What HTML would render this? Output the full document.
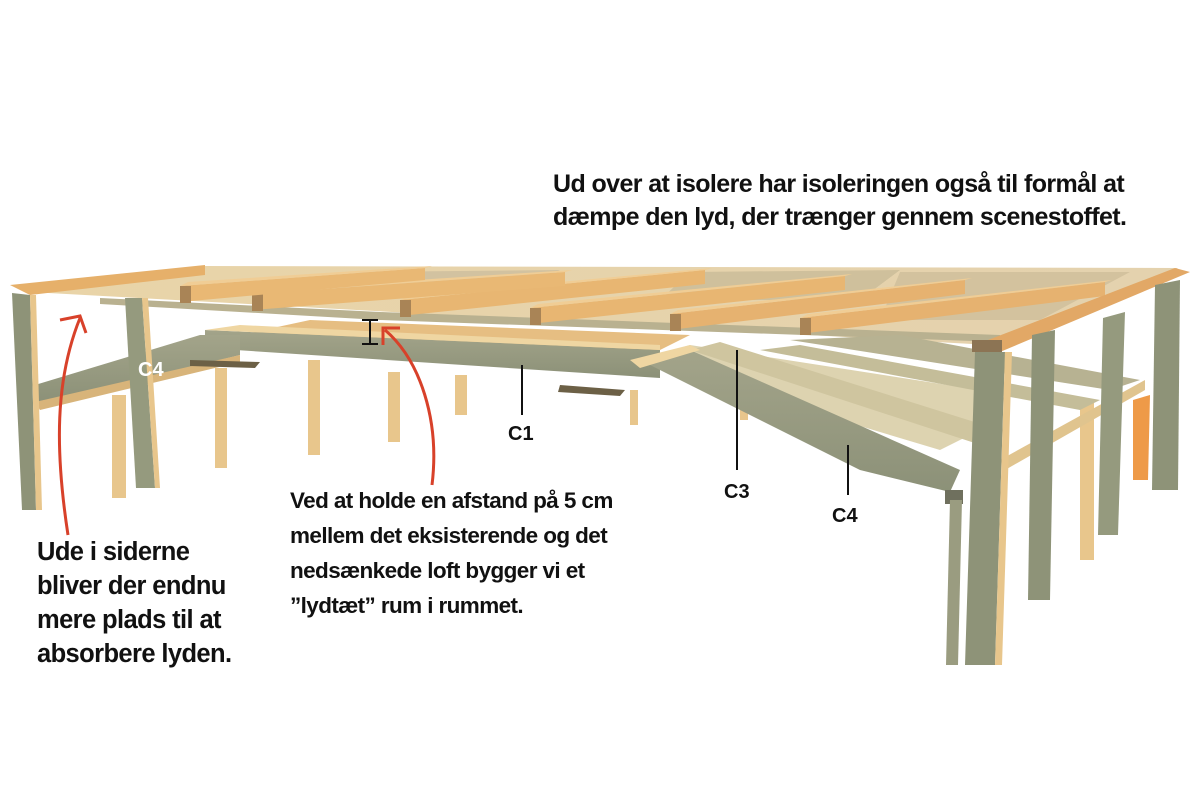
<!DOCTYPE html>
<html><head><meta charset="utf-8"><style>
body{margin:0;background:#fff;width:1200px;height:800px;overflow:hidden;position:relative;font-family:"Liberation Sans",sans-serif}
.t{position:absolute;font-weight:bold;color:#111;letter-spacing:-0.6px}
</style></head><body>
<svg width="1200" height="800" style="position:absolute;left:0;top:0">
<defs>
<linearGradient id="deck" x1="0" y1="0" x2="1" y2="0"><stop offset="0" stop-color="#e9d4a8"/><stop offset="1" stop-color="#e4d2ae"/></linearGradient>
<linearGradient id="beam" x1="0" y1="0" x2="0" y2="1"><stop offset="0" stop-color="#a3a48a"/><stop offset="1" stop-color="#8c9178"/></linearGradient>
</defs>
<g fill="#e8c68c">
<rect x="112" y="395" width="14" height="103"/>
<rect x="215" y="368" width="12" height="100"/>
<rect x="308" y="360" width="12" height="95"/>
<rect x="388" y="372" width="12" height="70"/>
<rect x="455" y="375" width="12" height="40"/>
<rect x="630" y="390" width="8" height="35"/>
<rect x="740" y="370" width="8" height="50"/>
<rect x="1080" y="400" width="14" height="160"/>
</g>
<!-- deck -->
<polygon points="205,266 1178,268 990,345 30,292" fill="url(#deck)"/>
<polygon points="360,272 560,270 520,290 330,292" fill="#d2c2a0"/>
<polygon points="690,272 900,270 860,300 660,300" fill="#cfc09c"/>
<polygon points="900,272 1130,272 1040,320 880,320" fill="#d3c29e"/>
<!-- secondary beam -->
<polygon points="100,298 380,312 1000,335 1000,342 380,320 100,304" fill="#b9b190"/>
<!-- joists: back to front -->
<g>
<polygon points="800,318 1105,282 1105,296 800,334" fill="#e6b270"/><polygon points="800,318 1105,282 1112,280 808,314" fill="#f0cd95"/><rect x="800" y="318" width="11" height="17" fill="#a98456"/>
<polygon points="670,314 965,280 965,294 670,330" fill="#e6b270"/><polygon points="670,314 965,280 972,278 678,310" fill="#f0cd95"/><rect x="670" y="314" width="11" height="17" fill="#a98456"/>
<polygon points="530,308 845,276 845,290 530,324" fill="#e8b672"/><polygon points="530,308 845,276 852,274 538,304" fill="#f0cd95"/><rect x="530" y="308" width="11" height="17" fill="#a98456"/>
<polygon points="400,300 705,270 705,284 400,316" fill="#e8b672"/><polygon points="400,300 705,270 712,268 408,296" fill="#f0cd95"/><rect x="400" y="300" width="11" height="17" fill="#a98456"/>
<polygon points="252,294 565,272 565,286 252,310" fill="#e9b874"/><polygon points="252,294 565,272 572,270 260,290" fill="#f0cd95"/><rect x="252" y="294" width="11" height="17" fill="#a98456"/>
<polygon points="180,286 425,268 425,280 180,302" fill="#e9b874"/><polygon points="180,286 425,268 432,266 188,282" fill="#f0cd95"/><rect x="180" y="286" width="11" height="17" fill="#a98456"/>
</g>
<!-- lower ceiling area -->
<polygon points="240,335 310,320 690,335 640,360" fill="#e6be82"/>
<polygon points="690,345 980,390 1000,420 940,450 640,360" fill="#ddd3b0"/>
<!-- C1 beam -->
<polygon points="205,330 660,350 660,378 205,348" fill="url(#beam)"/>
<polygon points="205,330 240,325 660,345 660,350" fill="#efd6a2"/>
<!-- C4 left -->
<polygon points="35,385 200,335 240,335 240,355 100,390 35,402" fill="url(#beam)"/>
<polygon points="35,402 240,355 240,362 40,410" fill="#d8b47a"/>
<polygon points="190,360 260,362 255,368 190,366" fill="#6c6046"/>
<polygon points="560,385 625,390 620,396 558,392" fill="#6c6046"/>
<!-- right diagonals -->
<polygon points="640,360 690,350 960,470 950,492 860,470" fill="url(#beam)"/>
<polygon points="690,350 720,342 1000,430 990,448" fill="#cfc59f"/>
<polygon points="630,360 690,345 700,350 640,368" fill="#efd6a2"/>
<polygon points="760,350 800,345 1100,400 1080,410" fill="#c4bd99"/>
<polygon points="790,340 900,335 1140,380 1110,390" fill="#b7b292"/>
<polygon points="1000,460 1145,380 1145,390 1005,470" fill="#e0c48e"/>
<rect x="945" y="490" width="18" height="14" fill="#6f705e"/>
<!-- front edge beams -->
<polygon points="10,285 205,265 205,275 30,295" fill="#e6b06a"/>
<polygon points="975,345 1175,268 1190,272 1000,352" fill="#e2a866"/>
<rect x="972" y="340" width="30" height="12" fill="#8c7454"/>
<!-- columns -->
<g>
<polygon points="12,293 30,295 36,510 22,510" fill="#8e9378"/><polygon points="30,295 36,295 42,510 36,510" fill="#e8c68c"/>
<polygon points="125,298 142,298 155,488 136,488" fill="#959a7e"/><polygon points="142,298 148,298 160,488 155,488" fill="#e8c68c"/>
<polygon points="975,352 1005,352 995,665 965,665" fill="#8e9378"/><polygon points="1005,352 1012,352 1002,665 995,665" fill="#e8c68c"/>
<polygon points="950,500 962,500 958,665 946,665" fill="#9a9c80"/>
<polygon points="1032,335 1055,330 1050,600 1028,600" fill="#8e9378"/>
<polygon points="1103,318 1125,312 1118,535 1098,535" fill="#959a7e"/>
<polygon points="1155,285 1180,280 1178,490 1152,490" fill="#8e9378"/>
<polygon points="1133,400 1150,395 1148,480 1133,480" fill="#ee9a48"/>
</g>
<g stroke="#111" stroke-width="2">
<line x1="522" y1="365" x2="522" y2="415"/>
<line x1="737" y1="350" x2="737" y2="470"/>
<line x1="848" y1="445" x2="848" y2="495"/>
<line x1="370" y1="320" x2="370" y2="344"/><line x1="362" y1="320" x2="378" y2="320"/><line x1="362" y1="344" x2="378" y2="344"/>
</g>
<g stroke="#d8412a" stroke-width="3" fill="none">
<path d="M68,535 C55,450 55,380 80,318"/>
<path d="M60,320 L80,316 L86,333"/>
<path d="M432,485 C440,420 420,360 385,330"/>
<path d="M383,345 L383,328 L400,328"/>
</g>
<text x="138" y="376" font-family="Liberation Sans" font-weight="bold" font-size="20" fill="#fff">C4</text>
<text x="508" y="440" font-family="Liberation Sans" font-weight="bold" font-size="20" fill="#111">C1</text>
<text x="724" y="498" font-family="Liberation Sans" font-weight="bold" font-size="20" fill="#111">C3</text>
<text x="832" y="522" font-family="Liberation Sans" font-weight="bold" font-size="20" fill="#111">C4</text>
</svg>
<div class="t" style="left:553px;top:168px;font-size:25px;line-height:33px">Ud over at isolere har isoleringen også til formål at<br>dæmpe den lyd, der trænger gennem scenestoffet.</div>
<div class="t" style="left:37px;top:535px;font-size:25.5px;line-height:34px">Ude i siderne<br>bliver der endnu<br>mere plads til at<br>absorbere lyden.</div>
<div class="t" style="left:290px;top:483px;font-size:22.5px;line-height:35px">Ved at holde en afstand på 5 cm<br>mellem det eksisterende og det<br>nedsænkede loft bygger vi et<br>”lydtæt” rum i rummet.</div>
</body></html>
